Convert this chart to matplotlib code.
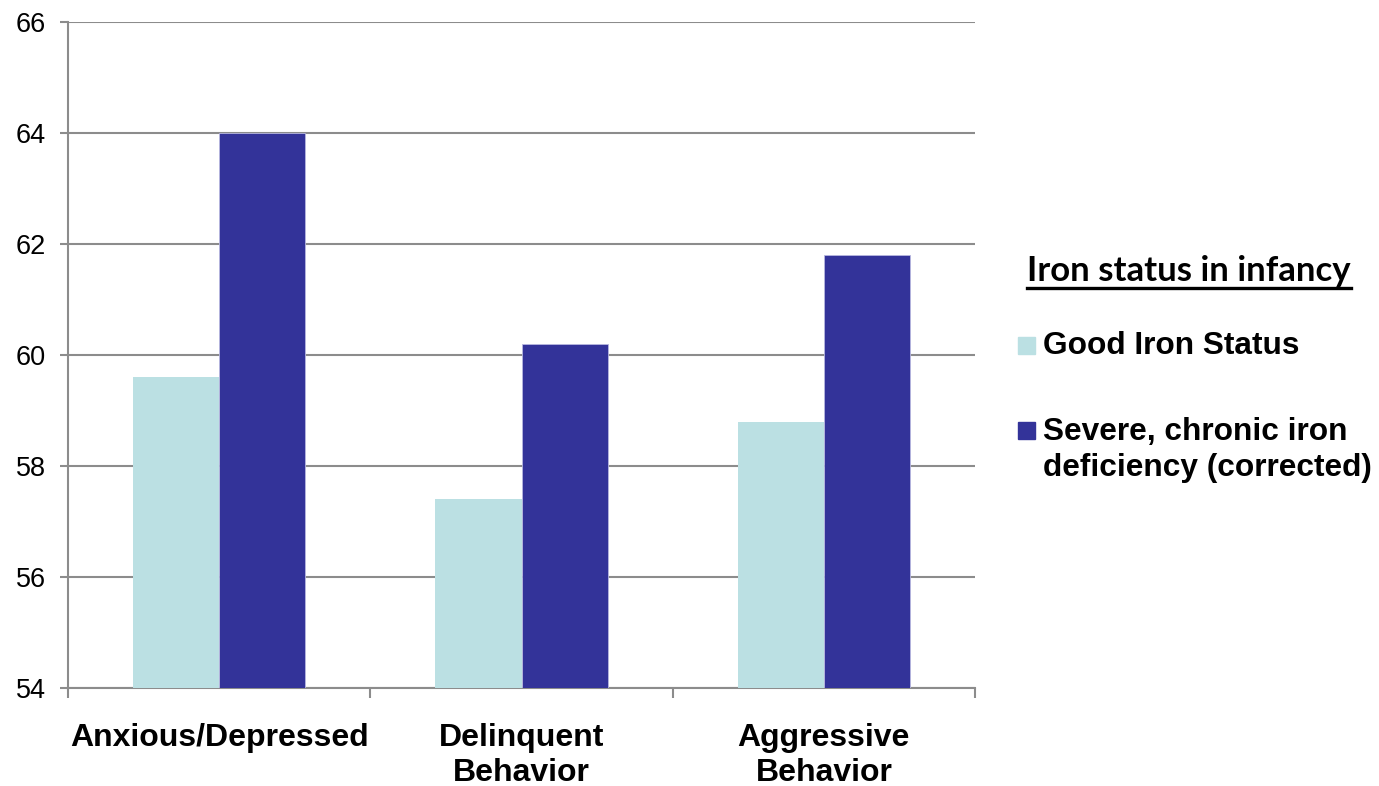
import numpy as np
import matplotlib
matplotlib.use("Agg")
import matplotlib.pyplot as plt
from matplotlib.patches import Rectangle
from matplotlib.lines import Line2D

# data
categories = ["Anxious/Depressed", "Delinquent\nBehavior", "Aggressive\nBehavior"]
good_iron = [59.6, 57.4, 58.8]
severe_def = [64.0, 60.2, 61.8]
series_labels = ["Good Iron Status", "Severe, chronic iron\ndeficiency (corrected)"]
legend_title = "Iron status in infancy"
y_ticks = [54, 56, 58, 60, 62, 64, 66]

good_color = "#BBE0E3"
severe_color = "#333399"
grid_color = "#8c8c8c"

plt.rcParams['font.family'] = ['Liberation Sans', 'DejaVu Sans']

fig = plt.figure(figsize=(13.79, 7.86), dpi=100)
ax = fig.add_axes([68 / 1379, 98 / 786, (975 - 68) / 1379, (688 - 22) / 786])

x = np.arange(len(categories))
w = 0.285
ax.bar(x - w / 2, [v - 54 for v in good_iron], w, bottom=54, color=good_color, zorder=3)
ax.bar(x + w / 2, [v - 54 for v in severe_def], w, bottom=54, color=severe_color,
       edgecolor="#b8b8e0", linewidth=0.6, zorder=3)

ax.set_xlim(-0.5, len(categories) - 0.5)
ax.set_ylim(54, 66)
ax.set_yticks(y_ticks)
ax.yaxis.grid(True, color=grid_color, linewidth=1.5, zorder=0)
ax.tick_params(axis='y', labelsize=19.5, length=6, width=1.5, color=grid_color, pad=10)

ax.set_xticks(x)
ax.set_xticklabels(categories, fontsize=23, fontweight='bold', linespacing=1.25)
ax.tick_params(axis='x', which='major', length=0, pad=25)
ax.set_xticks(np.arange(-0.5, len(categories)), minor=True)
ax.tick_params(axis='x', which='minor', length=7, width=1.5, color=grid_color)

for s in ['top', 'right']:
    ax.spines[s].set_visible(False)
for s in ['left', 'bottom']:
    ax.spines[s].set_color(grid_color)
    ax.spines[s].set_linewidth(1.5)

# legend drawn by hand to match the layout
W, H = 1379, 786
def fx(px):
    return px / W
def fy(py):
    return 1 - py / H

title = fig.text(fx(1189), fy(271), legend_title, fontsize=25, fontweight='bold',
                 family=['Lato', 'DejaVu Sans'], ha='center', va='center')
fig.canvas.draw()
bb = title.get_window_extent()
fig.add_artist(Line2D([bb.x0 / W, bb.x1 / W], [fy(288), fy(288)],
                      color='black', linewidth=2.4, transform=fig.transFigure))

sq = 17
fig.add_artist(Rectangle((fx(1018), fy(354)), sq / W, sq / H, color=good_color,
                         transform=fig.transFigure))
fig.text(fx(1043), fy(346), series_labels[0], fontsize=22.8, fontweight='bold',
         ha='left', va='center')
fig.add_artist(Rectangle((fx(1018), fy(439)), sq / W, sq / H, color=severe_color,
                         transform=fig.transFigure))
fig.text(fx(1043), fy(417), series_labels[1], fontsize=22.8, fontweight='bold',
         ha='left', va='top', linespacing=1.25)

fig.savefig("out.png", dpi=100)
